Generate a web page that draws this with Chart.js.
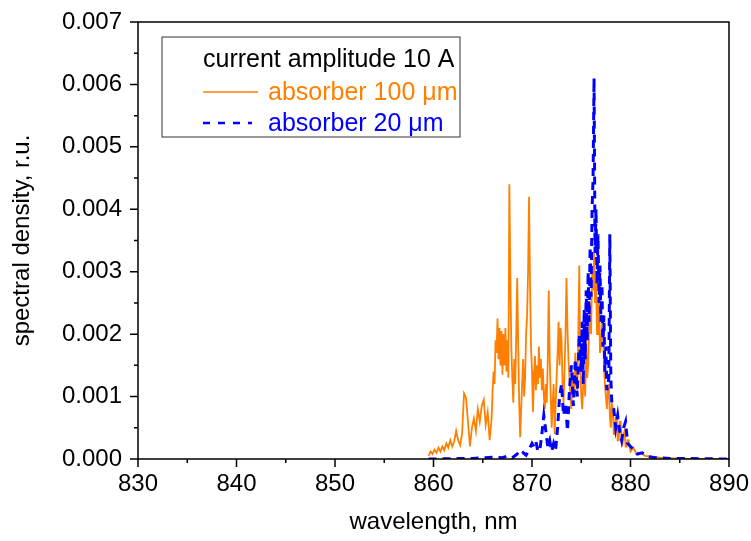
<!DOCTYPE html>
<html lang="en">
<head>
    <meta charset="UTF-8">
    <title>Spectral density</title>
    <script src="https://cdn.jsdelivr.net/npm/chart.js"></script>
    <style>
        body { margin: 0; background: #fff; }
        .chart-box { width: 751px; height: 541px; }
    </style>
</head>
<body>
    <div class="chart-box">
        <canvas id="spectrumChart"></canvas>
    </div>
    <script>
        // wavelength (nm) and spectral density, row by row
        const wl100 = [
            859.5, 859.7, 859.9, 860.1, 860.3, 860.5, 860.7, 860.9, 861.1, 861.3,
            861.5, 861.7, 861.9, 862.1, 862.3, 862.5, 862.7, 862.9, 863.1, 863.3,
            863.5, 863.7, 863.9, 864.1, 864.3, 864.5, 864.7, 864.9, 865.1, 865.3,
            865.5, 865.7, 865.9, 866.0, 866.1, 866.2, 866.3, 866.4, 866.5, 866.6,
            866.7, 866.8, 866.9, 867.0, 867.1, 867.2, 867.3, 867.4, 867.5, 867.6,
            867.7, 867.8, 867.9, 868.0, 868.1, 868.2, 868.3, 868.4, 868.5, 868.6,
            868.7, 868.8, 868.9, 869.0, 869.1, 869.2, 869.3, 869.4, 869.5, 869.6,
            869.7, 869.8, 869.9, 870.0, 870.1, 870.2, 870.3, 870.4, 870.5, 870.6,
            870.7, 870.8, 870.9, 871.0, 871.1, 871.2, 871.3, 871.4, 871.5, 871.6,
            871.7, 871.8, 871.9, 872.0, 872.1, 872.2, 872.3, 872.4, 872.5, 872.6,
            872.7, 872.8, 872.9, 873.0, 873.1, 873.2, 873.3, 873.4, 873.5, 873.6,
            873.7, 873.8, 873.9, 874.0, 874.1, 874.2, 874.3, 874.4, 874.5, 874.6,
            874.7, 874.8, 874.9, 875.0, 875.1, 875.2, 875.3, 875.4, 875.5, 875.6,
            875.7, 875.8, 875.9, 876.0, 876.1, 876.2, 876.3, 876.4, 876.5, 876.6,
            876.7, 876.8, 876.9, 877.0, 877.1, 877.2, 877.3, 877.4, 877.5, 877.6,
            877.7, 877.8, 877.9, 878.0, 878.1, 878.2, 878.3, 878.4, 878.5, 878.6,
            878.7, 878.8, 878.9, 879.0, 879.1, 879.2, 879.3, 879.4, 879.5, 879.6,
            879.7, 879.8, 880.0, 880.3, 880.6, 881.0, 881.5, 882.0, 883.0, 884.0,
            885.0, 886.0, 890.0];
        const sd100 = [
            0.00005, 0.00012, 0.00008, 0.00015, 0.00010, 0.00018, 0.00012, 0.00020, 0.00014, 0.00025,
            0.00018, 0.00030, 0.00020, 0.00028, 0.00045, 0.00030, 0.00022, 0.00040, 0.00105, 0.00098,
            0.00060, 0.00020, 0.00050, 0.00065, 0.00045, 0.00080, 0.00060, 0.00085, 0.00095, 0.00055,
            0.00075, 0.00030, 0.00065, 0.00110, 0.00140, 0.00120, 0.00190, 0.00170, 0.00225, 0.00160,
            0.00210, 0.00150, 0.00205, 0.00135, 0.00200, 0.00150, 0.00210, 0.00140, 0.00190, 0.00130,
            0.00440, 0.00300, 0.00180, 0.00130, 0.00090, 0.00160, 0.00120, 0.00200, 0.00290, 0.00180,
            0.00090, 0.00035, 0.00080, 0.00120, 0.00160, 0.00100, 0.00130, 0.00200, 0.00230, 0.00300,
            0.00420, 0.00280, 0.00180, 0.00140, 0.00075, 0.00130, 0.00165, 0.00110, 0.00150, 0.00120,
            0.00180, 0.00130, 0.00160, 0.00110, 0.00145, 0.00100, 0.00080, 0.00120, 0.00090, 0.00160,
            0.00270, 0.00160, 0.00100, 0.00050, 0.00090, 0.00120, 0.00040, 0.00090, 0.00130, 0.00170,
            0.00220, 0.00150, 0.00210, 0.00190, 0.00120, 0.00090, 0.00140, 0.00200, 0.00290, 0.00210,
            0.00160, 0.00130, 0.00100, 0.00080, 0.00130, 0.00140, 0.00100, 0.00170, 0.00120, 0.00110,
            0.00200, 0.00310, 0.00150, 0.00100, 0.00080, 0.00120, 0.00140, 0.00100, 0.00190, 0.00130,
            0.00150, 0.00210, 0.00250, 0.00200, 0.00300, 0.00270, 0.00330, 0.00250, 0.00290, 0.00200,
            0.00240, 0.00260, 0.00170, 0.00180, 0.00210, 0.00230, 0.00150, 0.00120, 0.00100, 0.00080,
            0.00110, 0.00120, 0.00070, 0.00050, 0.00090, 0.00080, 0.00040, 0.00040, 0.00070, 0.00070,
            0.00030, 0.00030, 0.00060, 0.00060, 0.00030, 0.00025, 0.00040, 0.00045, 0.00020, 0.00020,
            0.00030, 0.00030, 0.00012, 0.00018, 0.00008, 0.00010, 0.00005, 0.00004, 0.00002, 0.00001,
            0.00001, 0, 0];

        const wl20 = [
            859.5, 864.0, 866.0, 867.0, 867.5, 868.0, 868.5, 868.8, 869.1, 869.4,
            869.7, 870.0, 870.2, 870.4, 870.6, 870.8, 871.0, 871.2, 871.4, 871.6,
            871.8, 872.0, 872.2, 872.4, 872.6, 872.8, 873.0, 873.2, 873.4, 873.6,
            873.8, 874.0, 874.2, 874.4, 874.6, 874.8, 875.0, 875.1, 875.2, 875.3,
            875.4, 875.5, 875.6, 875.7, 875.8, 875.9, 876.0, 876.1, 876.2, 876.3,
            876.4, 876.5, 876.6, 876.7, 876.8, 876.9, 877.0, 877.1, 877.2, 877.3,
            877.4, 877.5, 877.6, 877.8, 877.9, 878.0, 878.1, 878.3, 878.5, 878.7,
            878.9, 879.1, 879.3, 879.5, 879.7, 880.0, 880.3, 880.7, 881.2, 881.8,
            882.5, 884.0, 890.0];
        const sd20 = [
            0, 0.00001, 0.00003, 0.00002, 0.00005, 0.00002, 0.00008, 0.00004, 0.00010, 0.00006,
            0.00015, 0.00025, 0.00020, 0.00028, 0.00012, 0.00015, 0.00040, 0.00070, 0.00045, 0.00020,
            0.00030, 0.00012, 0.00025, 0.00015, 0.00050, 0.00100, 0.00120, 0.00070, 0.00090, 0.00045,
            0.00110, 0.00150, 0.00085, 0.00160, 0.00100, 0.00200, 0.00140, 0.00220, 0.00120, 0.00240,
            0.00160, 0.00270, 0.00190, 0.00300, 0.00220, 0.00340, 0.00260, 0.00400, 0.00450, 0.00610,
            0.00330, 0.00400, 0.00280, 0.00360, 0.00250, 0.00310, 0.00220, 0.00280, 0.00180, 0.00230,
            0.00140, 0.00180, 0.00110, 0.00130, 0.00360, 0.00130, 0.00090, 0.00080, 0.00050, 0.00070,
            0.00045, 0.00030, 0.00050, 0.00060, 0.00025, 0.00020, 0.00015, 0.00008, 0.00010, 0.00004,
            0.00002, 0.00001, 0];

        const xTicks = [830, 840, 850, 860, 870, 880, 890];
        const yTicks = [0, 0.001, 0.002, 0.003, 0.004, 0.005, 0.006, 0.007];

        const legendTitle = 'current amplitude 10 A';
        const label100 = 'absorber 100 \u03bcm';
        const label20 = 'absorber 20 \u03bcm';

        const ORANGE = '#ff8000';
        const BLUE = '#0000ff';
        const FONT = 'Liberation Sans, Arial, sans-serif';

        function toPoints(xs, ys) {
            return xs.map((x, i) => ({ x: x, y: ys[i] }));
        }

        // frame, outward major/minor ticks and the boxed legend
        const framePlugin = {
            id: 'frame',
            afterDraw(chart) {
                const ctx = chart.ctx;
                const a = chart.chartArea;
                const xs = chart.scales.x;
                const ys = chart.scales.y;
                ctx.save();
                ctx.strokeStyle = '#000';
                ctx.lineWidth = 1.5;
                ctx.strokeRect(a.left, a.top, a.right - a.left, a.bottom - a.top);

                ctx.beginPath();
                for (let v = xTicks[0]; v <= xTicks[xTicks.length - 1]; v += 5) {
                    const px = xs.getPixelForValue(v);
                    const len = (v % 10 === 0) ? 8 : 4;
                    ctx.moveTo(px, a.bottom);
                    ctx.lineTo(px, a.bottom + len);
                }
                for (let k = 0; k <= 14; k++) {
                    const py = ys.getPixelForValue(k * 0.0005);
                    const len = (k % 2 === 0) ? 8 : 4;
                    ctx.moveTo(a.left, py);
                    ctx.lineTo(a.left - len, py);
                }
                ctx.stroke();

                // legend box
                const bx = 162, by = 37, bw = 298, bh = 100;
                ctx.fillStyle = '#fff';
                ctx.fillRect(bx, by, bw, bh);
                ctx.strokeStyle = '#333';
                ctx.lineWidth = 1;
                ctx.strokeRect(bx, by, bw, bh);

                ctx.font = '25px ' + FONT;
                ctx.textBaseline = 'middle';
                ctx.textAlign = 'left';
                ctx.fillStyle = '#000';
                ctx.fillText(legendTitle, 203, 60);

                ctx.strokeStyle = ORANGE;
                ctx.lineWidth = 1.5;
                ctx.beginPath();
                ctx.moveTo(203, 92);
                ctx.lineTo(258, 92);
                ctx.stroke();
                ctx.fillStyle = ORANGE;
                ctx.fillText(label100, 268, 93);

                ctx.strokeStyle = BLUE;
                ctx.lineWidth = 2.5;
                ctx.setLineDash([7, 8]);
                ctx.beginPath();
                ctx.moveTo(203, 123);
                ctx.lineTo(252, 123);
                ctx.stroke();
                ctx.setLineDash([]);
                ctx.fillStyle = BLUE;
                ctx.fillText(label20, 268, 124);
                ctx.restore();
            }
        };

        const ctx = document.getElementById('spectrumChart').getContext('2d');
        new Chart(ctx, {
            type: 'line',
            data: {
                datasets: [
                    {
                        label: label100,
                        data: toPoints(wl100, sd100),
                        borderColor: ORANGE,
                        borderWidth: 1.8,
                        pointRadius: 0,
                        tension: 0,
                        fill: false,
                        order: 2
                    },
                    {
                        label: label20,
                        data: toPoints(wl20, sd20),
                        borderColor: BLUE,
                        borderWidth: 3,
                        borderDash: [8, 6],
                        pointRadius: 0,
                        tension: 0,
                        fill: false,
                        order: 1
                    }
                ]
            },
            options: {
                responsive: true,
                maintainAspectRatio: false,
                animation: false,
                layout: { padding: { top: 22, right: 22, bottom: 0, left: 0 } },
                plugins: {
                    legend: { display: false },
                    tooltip: { enabled: false }
                },
                scales: {
                    x: {
                        type: 'linear',
                        min: 830,
                        max: 890,
                        afterBuildTicks: scale => { scale.ticks = xTicks.map(v => ({ value: v })); },
                        afterFit: scale => {
                            scale.height = 82;
                            scale.paddingLeft = 0;
                            scale.paddingRight = 0;
                        },
                        grid: { display: false },
                        border: { display: false },
                        ticks: {
                            color: '#000',
                            padding: 3,
                            maxRotation: 0,
                            font: { family: FONT, size: 24 }
                        },
                        title: {
                            display: true,
                            text: 'wavelength, nm',
                            color: '#000',
                            font: { family: FONT, size: 24 },
                            padding: { top: 0, bottom: 4 }
                        }
                    },
                    y: {
                        min: 0,
                        max: 0.007,
                        afterBuildTicks: scale => { scale.ticks = yTicks.map(v => ({ value: v })); },
                        afterFit: scale => {
                            scale.width = 138;
                            scale.paddingTop = 0;
                            scale.paddingBottom = 0;
                        },
                        grid: { display: false },
                        border: { display: false },
                        ticks: {
                            color: '#000',
                            padding: 8,
                            font: { family: FONT, size: 24 },
                            callback: v => v.toFixed(3)
                        },
                        title: {
                            display: true,
                            text: 'spectral density, r.u.',
                            color: '#000',
                            font: { family: FONT, size: 24 },
                            padding: { top: 8, bottom: 0 }
                        }
                    }
                }
            },
            plugins: [framePlugin]
        });
    </script>
</body>
</html>
